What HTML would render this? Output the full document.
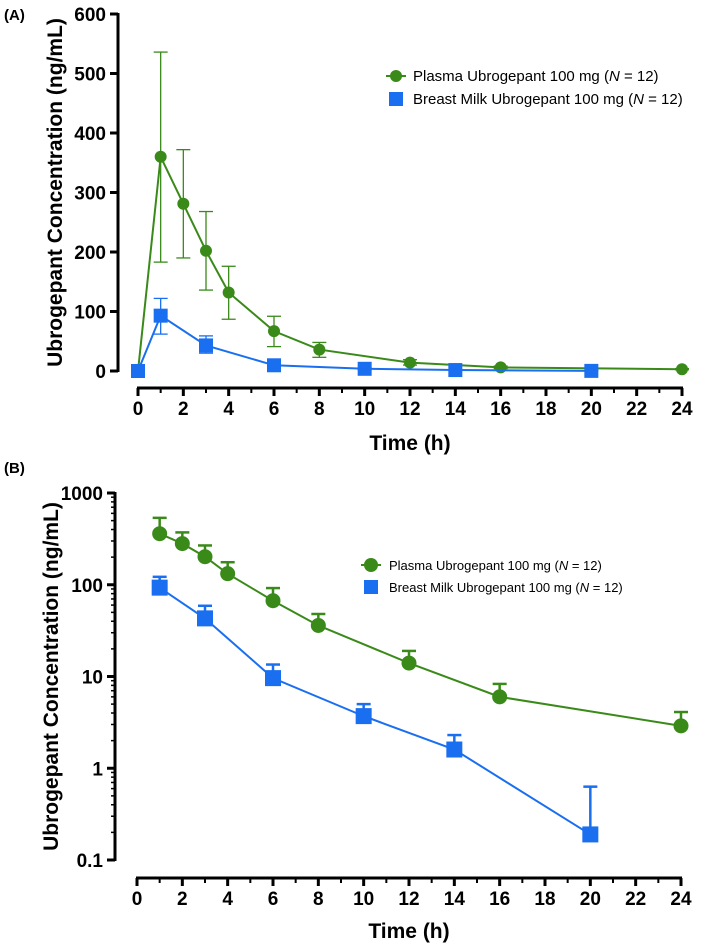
<!DOCTYPE html>
<html><head><meta charset="utf-8"><style>
body{margin:0;background:#fff}
svg{display:block;font-family:"Liberation Sans",Arial,sans-serif}
</style></head><body>
<svg id="c" width="709" height="947"></svg>
<script>
const hours=[0,1,2,3,4,6,8,12,16,24];
const plasma=[0,360,281,202,132,67,36,14,6,2.9];
const plasmaHi=[0,536,372,268,176,92,48,19,8.3,4.1];
const plasmaLo=[0,183,190,136,87,41,23,10,4,2];
const milkHours=[0,1,3,6,10,14,20];
const milk=[0,93,43,9.6,3.7,1.6,0.19];
const milkHi=[0,122,59,13.5,5,2.3,0.63];
const milkLo=[0,62,30,6,2.5,1,0.1];
const xTicks=[0,2,4,6,8,10,12,14,16,18,20,22,24];
const yTicksA=[0,100,200,300,400,500,600];
const yTicksB=[0.1,1,10,100,1000];

const NS="http://www.w3.org/2000/svg";
const svg=document.getElementById('c');
const G="#3a8a1a",B="#1a6ff0";
function el(t,a,p){const e=document.createElementNS(NS,t);for(const k in a)e.setAttribute(k,a[k]);(p||svg).appendChild(e);return e;}
function txt(x,y,s,a,p){const e=el('text',Object.assign({x:x,y:y},a),p);e.textContent=s;return e;}

function panel(log){
  const g=el('g',{});
  
  
  let X,Y,axX,x0,yTop,yBot,xAxisY;
  if(!log){axX=118;yTop=14;yBot=371;xAxisY=388;x0=138;
    Y=v=>yBot-(v/600)*(yBot-yTop);}
  else{axX=115;yTop=493;yBot=860;xAxisY=878;x0=137;
    Y=v=>yBot-(Math.log10(v)+1)/4*(yBot-yTop);}
  X=h=>x0+h*(682-138)/24;
  const ya=el('g',{},g);
  el('line',{x1:axX,y1:yTop-1,x2:axX,y2:yBot+1,stroke:'#000','stroke-width':3},ya);
  const yt=log?yTicksB:yTicksA;
  yt.forEach(v=>{el('line',{x1:axX-8,y1:Y(v),x2:axX,y2:Y(v),stroke:'#000','stroke-width':3},ya);
    const t=txt(axX-12,Y(v)+7,String(v),{'text-anchor':'end','font-size':19,'font-weight':'bold'},ya);
    });
  if(log){for(let d=-1;d<3;d++)for(let m=2;m<10;m++){const v=m*Math.pow(10,d);
    el('line',{x1:axX-4,y1:Y(v),x2:axX,y2:Y(v),stroke:'#000','stroke-width':1.5},ya);}}
  const ytl=txt(0,0,'Ubrogepant Concentration (ng/mL)',{'font-size':21,'font-weight':'bold','text-anchor':'middle',transform:`translate(${log?58:62},${(yTop+yBot)/2}) rotate(-90)`},g);
  
  const xa=el('g',{},g);
  el('line',{x1:X(0)-1,y1:xAxisY,x2:X(24)+1,y2:xAxisY,stroke:'#000','stroke-width':3},xa);
  for(let h=0;h<=24;h++){el('line',{x1:X(h),y1:xAxisY,x2:X(h),y2:xAxisY+(h%2?5:8),stroke:'#000','stroke-width':h%2?2:3},xa);}
  xTicks.forEach(h=>{const t=txt(X(h),xAxisY+27,String(h),{'text-anchor':'middle','font-size':19,'font-weight':'bold'},xa);
    });
  const xtl=txt(X(12),xAxisY+(log?60:62),'Time (h)',{'text-anchor':'middle','font-size':21,'font-weight':'bold'},g);
  
  const pl=txt(4,log?473:20,log?'(B)':'(A)',{'font-size':15,'font-weight':'bold'},g);
  
  function series(hs,vals,hi,lo,col,sq,name){
    const sg=el('g',{},g);
    const idx=hs.map((h,i)=>i).filter(i=>!log||vals[i]>0);
    idx.forEach(i=>{const x=X(hs[i]);if(hi[i]>vals[i]){
      const lw=log?vals[i]:lo[i];
      el('line',{x1:x,y1:Y(hi[i]),x2:x,y2:Y(lw),stroke:col,'stroke-width':log?2.5:1.3},sg);
      el('line',{x1:x-7,y1:Y(hi[i]),x2:x+7,y2:Y(hi[i]),stroke:col,'stroke-width':log?2.5:1.3},sg);
      if(!log)el('line',{x1:x-7,y1:Y(lo[i]),x2:x+7,y2:Y(lo[i]),stroke:col,'stroke-width':1.3},sg);}});
    el('polyline',{points:idx.map(i=>X(hs[i])+','+Y(vals[i])).join(' '),fill:'none',stroke:col,'stroke-width':2},sg);
    idx.forEach(i=>{const x=X(hs[i]),y=Y(vals[i]);let m;const s=log?8:7;
      if(sq)m=el('rect',{x:x-s,y:y-s,width:2*s,height:2*s,fill:col},sg);
      else m=el('circle',{cx:x,cy:y,r:log?7.5:6,fill:col},sg);
      });
  }
  series(hours,plasma,plasmaHi,plasmaLo,G,false,'plasma-series');
  series(milkHours,milk,milkHi,milkLo,B,true,'breast-milk-series');
  const lg=el('g',{},g);
  const lx=log?371:396,ly1=log?565:76,ly2=log?587:99,tx=log?389:413,fs=log?13:15;
  const e1=el('g',{},lg);
  el('line',{x1:lx-10,y1:ly1,x2:lx+10,y2:ly1,stroke:G,'stroke-width':2},e1);
  el('circle',{cx:lx,cy:ly1,r:log?7:6,fill:G},e1);
  const t1=txt(tx,ly1+5,'',{'font-size':fs},e1);t1.innerHTML='Plasma Ubrogepant 100 mg (<tspan font-style="italic">N</tspan> = 12)';
  const e2=el('g',{},lg);
  el('rect',{x:lx-7,y:ly2-7,width:14,height:14,fill:B},e2);
  const t2=txt(tx,ly2+5,'',{'font-size':fs},e2);t2.innerHTML='Breast Milk Ubrogepant 100 mg (<tspan font-style="italic">N</tspan> = 12)';
}
panel(false);
panel(true);
</script>
</body></html>
